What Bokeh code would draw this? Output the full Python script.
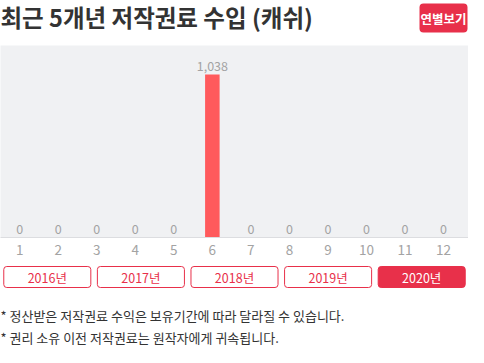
from bokeh.plotting import figure
from bokeh.layouts import column
from bokeh.models import ColumnDataSource, Range1d, FixedTicker, FactorRange
from bokeh.core.properties import value
from bokeh.embed import file_html
from bokeh.resources import INLINE

# ---------------- data ----------------
title_text = "최근 5개년 저작권료 수입 (캐쉬)"
view_button_text = "연별보기"
months = [1, 2, 3, 4, 5, 6, 7, 8, 9, 10, 11, 12]
month_labels = ["1", "2", "3", "4", "5", "6", "7", "8", "9", "10", "11", "12"]
income = [0, 0, 0, 0, 0, 1038, 0, 0, 0, 0, 0, 0]
years = ["2016년", "2017년", "2018년", "2019년", "2020년"]
selected_year = "2020년"
notes = [
    "* 정산받은 저작권료 수익은 보유기간에 따라 달라질 수 있습니다.",
    "* 권리 소유 이전 저작권료는 원작자에게 귀속됩니다.",
]

# ---------------- style ----------------
W = 468
FONT = "Noto Sans CJK KR"
RED = "#e8304a"
BAR = "#ff5a5c"
GRAY_BG = "#f0f1f3"
LABEL_GRAY = "#a3a3a3"
DARK = "#333333"


def blank(height, x_range, y_range):
    p = figure(width=W, height=height, x_range=x_range, y_range=y_range,
               output_backend="svg", toolbar_location=None, min_border=0,
               outline_line_color=None)
    p.axis.visible = False
    p.grid.visible = False
    p.background_fill_color = "white"
    p.border_fill_color = "white"
    return p


# ---------------- header ----------------
head = blank(45, Range1d(0, W), Range1d(45, 0))
head.text(x=[0], y=[16.5], text=[title_text], text_font=value(FONT),
          text_font_size="23.5px", text_font_style="bold", text_color=DARK,
          text_baseline="middle", text_align="left")
head.quad(left=[419], right=[467], top=[3], bottom=[32], fill_color=RED,
          line_color=None, border_radius=4)
head.text(x=[443], y=[17.5], text=[view_button_text], text_font=value(FONT),
          text_font_size="12.5px", text_font_style="bold", text_color="white",
          text_baseline="middle", text_align="center")

# ---------------- chart ----------------
src = ColumnDataSource(dict(
    x=months, top=income, lab=[f"{v:,}" for v in income]))

chart = figure(width=W, height=217, x_range=Range1d(0.5, 12.65),
               y_range=Range1d(0, 1223), output_backend="svg",
               toolbar_location=None, min_border=0, min_border_bottom=25,
               outline_line_color=None)
chart.background_fill_color = GRAY_BG
chart.border_fill_color = "white"
chart.grid.visible = False
chart.yaxis.visible = False
chart.vbar(x="x", top="top", width=0.377, source=src, fill_color=BAR,
           line_color=None)
chart.text(x="x", y="top", text="lab", source=src, text_font=value(FONT),
           text_font_size="12.5px", text_color=LABEL_GRAY,
           text_baseline="middle", text_align="center", y_offset=-9)

xa = chart.xaxis[0]
xa.ticker = FixedTicker(ticks=months)
xa.major_label_overrides = {m: l for m, l in zip(months, month_labels)}
xa.axis_line_color = "#dcdde0"
xa.axis_line_width = 1
xa.major_tick_line_color = None
xa.minor_tick_line_color = None
xa.major_label_text_color = LABEL_GRAY
xa.major_label_text_font = FONT
xa.major_label_text_font_size = "13.5px"
xa.major_label_standoff = 1

# ---------------- year buttons ----------------
fills = [RED if y == selected_year else "white" for y in years]
tcols = ["white" if y == selected_year else RED for y in years]
bsrc = ColumnDataSource(dict(year=years, fill=fills, tcol=tcols))
btn = blank(30, FactorRange(*years, range_padding=0), Range1d(30, 0))
btn.vbar(x="year", top=4, bottom=25, width=0.93, source=bsrc,
         fill_color="fill", line_color=RED, line_width=1, border_radius=3)
btn.text(x="year", y=15, text="year", source=bsrc, text_font=value(FONT),
         text_font_size="12.5px", text_color="tcol", text_baseline="middle",
         text_align="center")

# ---------------- footnotes ----------------
foot = blank(55, Range1d(0, W), Range1d(55, 0))
foot.text(x=[0, 0], y=[22.5, 45], text=notes, text_font=value(FONT),
          text_font_size="13px", text_color=DARK, text_baseline="middle",
          text_align="left")

layout = column(head, chart, btn, foot, spacing=0)
open("out.html", "w").write(file_html(layout, INLINE))
